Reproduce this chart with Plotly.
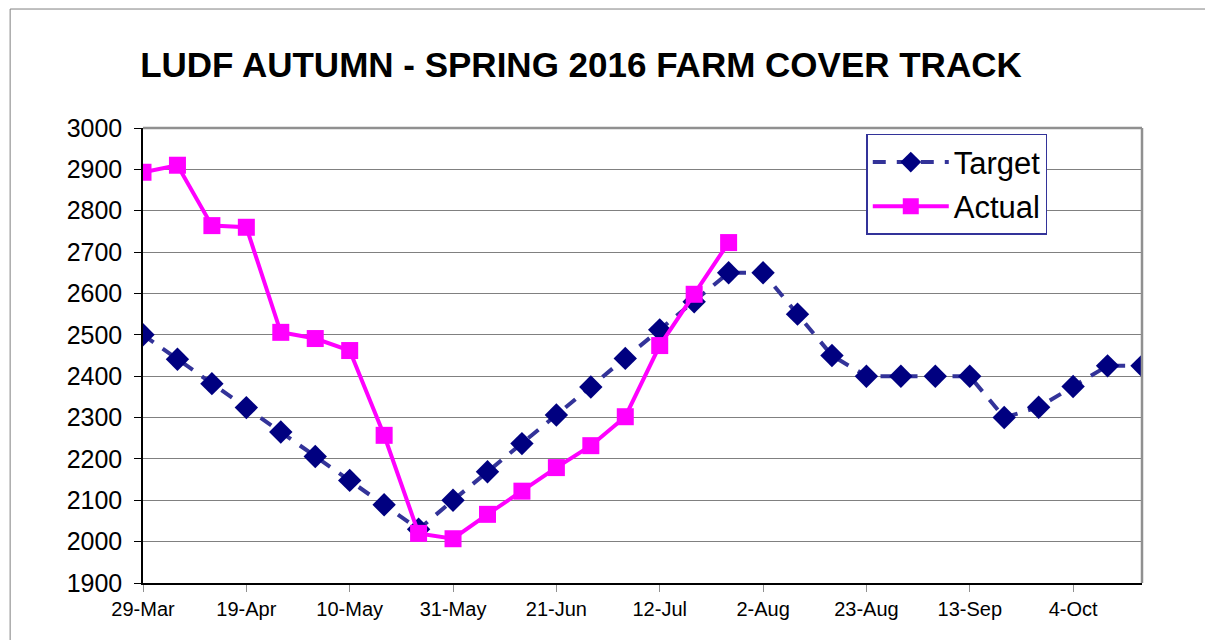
import plotly.graph_objects as go
import pandas as pd

dates = pd.date_range("2016-03-29", "2016-10-18", freq="7D").strftime("%Y-%m-%d").tolist()

target = [2500, 2441, 2382, 2324, 2265, 2206, 2148, 2089, 2030, 2100, 2169, 2237,
          2306, 2374, 2443, 2512, 2580, 2650, 2650, 2550, 2450, 2400, 2400, 2400,
          2400, 2300, 2325, 2375, 2425, 2425]
actual = [2893, 2910, 2764, 2760, 2506, 2491, 2462, 2257, 2020, 2007, 2066, 2122,
          2179, 2232, 2302, 2474, 2598, 2723]

FONT = "Arial, Liberation Sans, sans-serif"

fig = go.Figure()
fig.add_trace(go.Scatter(
    x=dates, y=target, name="Target", mode="lines+markers", legendgroup="t",
    line=dict(color="#333399", width=4, dash="13px,11px"),
    marker=dict(symbol="diamond", size=18, color="#000080"),
))
fig.add_trace(go.Scatter(
    x=dates[:len(actual)], y=actual, name="Actual", mode="lines+markers", legendgroup="a",
    line=dict(color="#FF00FF", width=4),
    marker=dict(symbol="square", size=17, color="#FF00FF"),
))

fig.update_layout(
    width=1213, height=640,
    margin=dict(l=135, r=79, t=120, b=65),
    paper_bgcolor="white", plot_bgcolor="white",
    font=dict(family=FONT, color="black"),
    title=dict(text="<b>LUDF AUTUMN - SPRING 2016 FARM COVER TRACK</b>",
               xref="paper", x=0.4384, xanchor="center",
               yref="container", y=0.911, yanchor="middle",
               font=dict(size=35, family=FONT, color="black")),
    showlegend=True,
    legend=dict(x=0.724, y=0.987, xanchor="left", yanchor="top",
                bgcolor="white", bordercolor="#333399", borderwidth=1.5,
                font=dict(size=31, family=FONT), itemwidth=76,
                traceorder="grouped", tracegroupgap=1),
)

fig.update_xaxes(
    type="date", range=["2016-03-29", "2016-10-18"],
    tick0="2016-03-29", dtick=21 * 86400000, tickformat="%-d-%b",
    showgrid=False, showline=True, linecolor="black", linewidth=1.5,
    ticks="outside", ticklen=7, tickcolor="#909090",
    tickfont=dict(size=20, family=FONT), zeroline=False,
)
fig.update_yaxes(
    range=[1900, 3000], dtick=100, tick0=1900,
    showgrid=True, gridcolor="#808080", gridwidth=1,
    showline=True, linecolor="black", linewidth=1.5,
    ticks="outside", ticklen=7, tickcolor="black", ticklabelstandoff=7,
    tickfont=dict(size=25, family=FONT), zeroline=False,
)

# plot-area border (top & right) in gray
fig.add_shape(type="line", xref="paper", yref="paper", x0=0, x1=1, y0=1, y1=1,
              line=dict(color="#909090", width=2.5))
fig.add_shape(type="line", xref="paper", yref="paper", x0=1, x1=1, y0=0, y1=1,
              line=dict(color="#909090", width=2.5))
# outer chart frame
fig.add_shape(type="line", xref="paper", yref="paper", x0=-0.133, x1=1.1, y0=1.2615, y1=1.2615,
              line=dict(color="#808080", width=1))
fig.add_shape(type="line", xref="paper", yref="paper", x0=-0.133, x1=-0.133, y0=-0.2, y1=1.2615,
              line=dict(color="#808080", width=1))

fig.write_html("out.html")
